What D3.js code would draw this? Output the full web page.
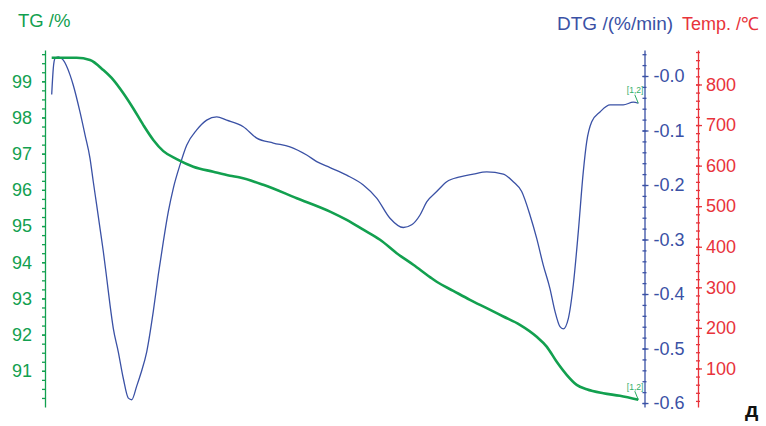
<!DOCTYPE html>
<html>
<head>
<meta charset="utf-8">
<script src="https://cdn.jsdelivr.net/npm/d3@7"></script>
<style>
  html, body { margin: 0; padding: 0; background: #fff; }
  svg { display: block; font-family: "Liberation Sans", Arial, sans-serif; }
</style>
</head>
<body>
<svg id="chart" width="766" height="426"></svg>
<script>
// Thermogravimetric run: mass (TG), mass-loss rate (DTG) and temperature axis.
// Time is given in relative units (0 = start of run, 100 = end of run).

const tgTime = [0, 4.26, 6.53, 8.80, 10.50, 12.21, 13.91, 15.62, 17.32, 19.03, 21.31, 24.14,
  27.55, 30.40, 32.10, 36.07, 41.77, 47.45, 50.29, 53.12, 55.97, 58.81, 61.64, 64.49, 65.63,
  68.46, 71.30, 74.16, 76.99, 79.82, 82.68, 84.38, 86.09, 87.79, 89.50, 91.20, 94.03, 96.87, 100];
const tgValues = [99.65, 99.65, 99.59, 99.31, 99.04, 98.67, 98.25, 97.79, 97.38, 97.07, 96.85,
  96.64, 96.50, 96.39, 96.34, 96.14, 95.77, 95.40, 95.17, 94.90, 94.62, 94.25, 93.93, 93.59,
  93.46, 93.21, 92.96, 92.73, 92.50, 92.27, 91.94, 91.67, 91.25, 90.89, 90.61, 90.49, 90.38,
  90.31, 90.20];

const dtgTime = [0, 0.27, 0.56, 1.13, 1.98, 3.12, 3.68, 4.82, 5.68, 6.53, 7.09, 7.67, 8.23,
  8.80, 9.38, 9.94, 10.50, 11.35, 12.21, 13.06, 13.64, 14.49, 15.22, 16.20, 17.32, 18.17,
  19.03, 19.88, 20.73, 21.87, 23.01, 24.72, 26.42, 28.13, 29.83, 32.66, 34.95, 37.78, 40.62,
  43.47, 45.18, 47.45, 50.29, 53.12, 55.40, 57.67, 59.94, 61.37, 62.79, 63.93, 65.63, 67.34,
  69.61, 71.87, 74.16, 76.99, 78.69, 80.12, 81.53, 82.68, 83.80, 84.94, 85.80, 86.65, 87.21,
  88.07, 88.92, 89.77, 90.62, 91.20, 92.06, 93.47, 95.18, 97.44, 99.15, 100];
const dtgValues = [-0.034, 0.014, 0.032, 0.035, 0.029, 0.002, -0.017, -0.066, -0.108, -0.151,
  -0.194, -0.237, -0.279, -0.322, -0.371, -0.420, -0.463, -0.506, -0.555, -0.591, -0.594,
  -0.569, -0.545, -0.506, -0.432, -0.365, -0.304, -0.249, -0.206, -0.163, -0.127, -0.099,
  -0.081, -0.075, -0.081, -0.093, -0.114, -0.123, -0.130, -0.145, -0.157, -0.168, -0.182,
  -0.200, -0.224, -0.261, -0.278, -0.273, -0.255, -0.231, -0.212, -0.194, -0.185, -0.180,
  -0.176, -0.180, -0.194, -0.212, -0.255, -0.298, -0.347, -0.390, -0.432, -0.460, -0.464,
  -0.445, -0.383, -0.286, -0.176, -0.121, -0.084, -0.066, -0.053, -0.053, -0.048, -0.050];

const tgTicks = [91, 92, 93, 94, 95, 96, 97, 98, 99];
const dtgTicks = [0, -0.1, -0.2, -0.3, -0.4, -0.5, -0.6];
const dtgTickLabels = ["-0.0", "-0.1", "-0.2", "-0.3", "-0.4", "-0.5", "-0.6"];
const tempTicks = [100, 200, 300, 400, 500, 600, 700, 800];
const endLabel = "[1,2]";

const GREEN = "#12a04f", BLUE = "#3a51a5", RED = "#e8333b";

const svg = d3.select("#chart");
const plotTop = 50, plotBottom = 407;

const x = d3.scaleLinear().domain([0, 100]).range([51.7, 638.3]);
const yTG = d3.scaleLinear().domain([90.0, 99.865]).range([plotBottom, plotTop]);
const yDTG = d3.scaleLinear().domain([-0.6073, 0.0477]).range([plotBottom, plotTop]);
const yT = d3.scaleLinear().domain([5, 885]).range([plotBottom, plotTop]);

const tickFont = (g, color) => g.selectAll("text")
  .attr("fill", color).style("font-size", "18px")
  .style("font-family", "'Liberation Sans', Arial, sans-serif");

function minorRange(lo, hi, step) {
  const out = [];
  for (let v = lo; v <= hi + 1e-9; v += step) out.push(+v.toFixed(4));
  return out;
}

// ---- TG axis (left) ----
const tgAxisX = 45;
const gTG = svg.append("g").attr("transform", `translate(${tgAxisX},0)`);
gTG.call(d3.axisLeft(yTG).tickValues(minorRange(90.25, 99.75, 0.25)).tickSize(3).tickSizeOuter(0).tickFormat(""));
gTG.selectAll("line, path").attr("stroke", GREEN).attr("stroke-width", 1.3);
const gTGm = svg.append("g").attr("transform", `translate(${tgAxisX},0)`);
gTGm.call(d3.axisLeft(yTG).tickValues(tgTicks).tickSize(3).tickPadding(10).tickFormat(d3.format("d")));
gTGm.select(".domain").remove();
gTGm.selectAll("line").attr("stroke", GREEN).attr("stroke-width", 1.3);
tickFont(gTGm, GREEN);

// ---- DTG axis ----
const dtgAxisX = 644.5;
const gD = svg.append("g").attr("transform", `translate(${dtgAxisX},0)`);
gD.call(d3.axisRight(yDTG).tickValues(minorRange(-0.6, 0.04, 0.02)).tickSize(2).tickSizeOuter(0).tickFormat(""));
gD.selectAll(".tick line").attr("x1", -2);
gD.selectAll("line, path").attr("stroke", BLUE).attr("stroke-width", 1.3);
const gDm = svg.append("g").attr("transform", `translate(${dtgAxisX},0)`);
gDm.call(d3.axisRight(yDTG).tickValues(dtgTicks).tickSize(4).tickPadding(5)
  .tickFormat((d, i) => dtgTickLabels[i]));
gDm.select(".domain").remove();
gDm.selectAll(".tick line").attr("x1", -2).attr("stroke", BLUE).attr("stroke-width", 1.3);
tickFont(gDm, BLUE);

// ---- Temperature axis ----
const tAxisX = 698;
const gT = svg.append("g").attr("transform", `translate(${tAxisX},0)`);
gT.call(d3.axisRight(yT).tickValues(minorRange(20, 880, 20)).tickSize(2).tickSizeOuter(0).tickFormat(""));
gT.selectAll(".tick line").attr("x1", -2);
gT.selectAll("line, path").attr("stroke", RED).attr("stroke-width", 1.3);
const gTm = svg.append("g").attr("transform", `translate(${tAxisX},0)`);
gTm.call(d3.axisRight(yT).tickValues(tempTicks).tickSize(4).tickPadding(4).tickFormat(d3.format("d")));
gTm.select(".domain").remove();
gTm.selectAll(".tick line").attr("x1", -2).attr("stroke", RED).attr("stroke-width", 1.3);
tickFont(gTm, RED);

// ---- Axis titles ----
svg.append("text").attr("x", 18).attr("y", 27).attr("fill", GREEN)
  .style("font-size", "18.5px").text("TG /%");
svg.append("text").attr("x", 557).attr("y", 30).attr("fill", BLUE)
  .style("font-size", "19px").text("DTG /(%/min)");
svg.append("text").attr("x", 682).attr("y", 30).attr("fill", RED)
  .style("font-size", "18px").text("Temp. /℃");

// ---- Curves ----
const tgData = tgTime.map((t, i) => [t, tgValues[i]]);
const dtgData = dtgTime.map((t, i) => [t, dtgValues[i]]);

svg.append("path").datum(dtgData)
  .attr("fill", "none").attr("stroke", BLUE).attr("stroke-width", 1.3)
  .attr("d", d3.line().x(d => x(d[0])).y(d => yDTG(d[1])).curve(d3.curveMonotoneX));

svg.append("path").datum(tgData)
  .attr("fill", "none").attr("stroke", GREEN).attr("stroke-width", 2.6)
  .attr("d", d3.line().x(d => x(d[0])).y(d => yTG(d[1])).curve(d3.curveMonotoneX));

// ---- End-point markers ----
function endMarker(px, py) {
  svg.append("line").attr("x1", px - 3.5).attr("y1", py - 8.5).attr("x2", px).attr("y2", py)
    .attr("stroke", GREEN).attr("stroke-width", 0.9);
  svg.append("text").attr("x", px - 11.5).attr("y", py - 10).attr("fill", "#2fae68")
    .style("font-size", "8.5px").text(endLabel);
}
const lastTG = tgData[tgData.length - 1];
const lastDTG = dtgData[dtgData.length - 1];
endMarker(x(lastDTG[0]), yDTG(lastDTG[1]));
endMarker(x(lastTG[0]), yTG(lastTG[1]));

// ---- Panel letter ----
svg.append("text").attr("x", 745).attr("y", 417).attr("fill", "#111")
  .style("font-size", "21px").style("font-weight", "bold").text("д");
</script>
</body>
</html>
